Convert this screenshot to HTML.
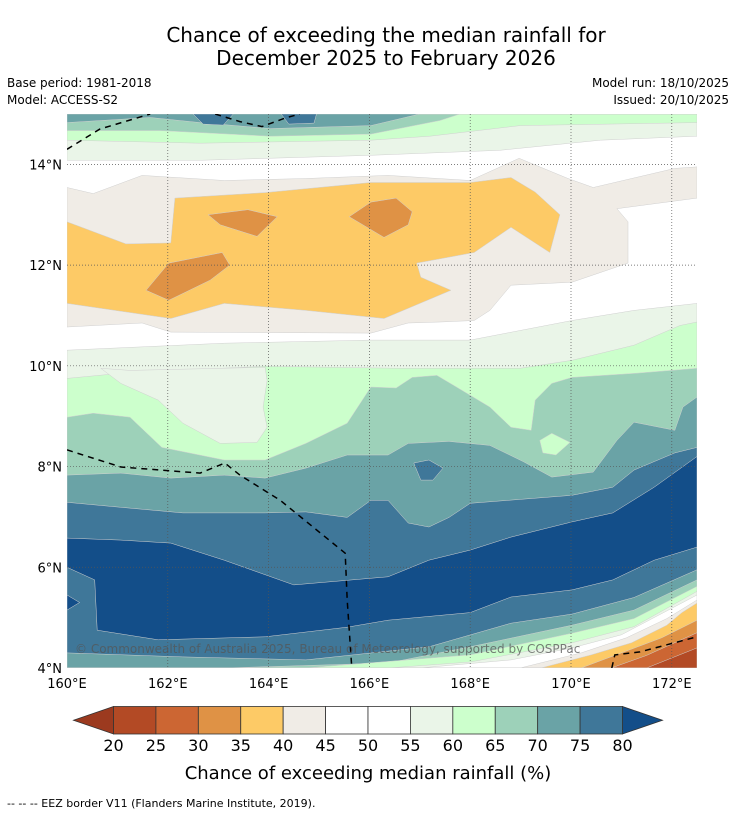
<!DOCTYPE html>
<html><head><meta charset="utf-8"><style>
html,body{margin:0;padding:0;background:#fff;width:736px;height:816px;overflow:hidden}
svg text{font-family:"DejaVu Sans","Liberation Sans",sans-serif}
</style></head><body>
<svg id="chart" width="736" height="816" viewBox="0 0 736 816" xmlns="http://www.w3.org/2000/svg">
<text x="386" y="42" font-size="20" text-anchor="middle" fill="#000">Chance of exceeding the median rainfall for</text>
<text x="386" y="65" font-size="20" text-anchor="middle" fill="#000">December 2025 to February 2026</text>
<text x="7" y="87" font-size="12">Base period: 1981-2018</text>
<text x="7" y="104" font-size="12">Model: ACCESS-S2</text>
<text x="729" y="87" font-size="12" text-anchor="end">Model run: 18/10/2025</text>
<text x="729" y="104" font-size="12" text-anchor="end">Issued: 20/10/2025</text>
<defs><clipPath id="mapclip"><rect x="67" y="114" width="630" height="554"/></clipPath></defs>
<g id="map" clip-path="url(#mapclip)"></g>
<g id="axes"></g>
<g id="cbar"></g>
<text x="368" y="779" font-size="18" text-anchor="middle">Chance of exceeding median rainfall (%)</text>
<text x="7" y="807" font-size="11">--  --  -- EEZ border V11 (Flanders Marine Institute, 2019).</text>
</svg>
<script>
// colour levels
const levels=[20,25,30,35,40,45,50,55,60,65,70,75,80];
const binColors=["#b34a25","#cc6633","#df9245","#fdca66","#f0ece6","#ffffff","#ffffff","#eaf5e8","#ccffcc","#9dd1b9","#6aa3a6","#3f7799"];
const underColor="#9c3a1f", overColor="#134e89";
const lonTicks=[160,162,164,166,168,170,172];
const latTicks=[4,6,8,10,12,14];
// contour regions [lon,lat]; mode: above=fill to top edge, below=fill to bottom edge, poly=closed
const regions=[
 ["above","#eaf5e8",[[160,14.08],[162.64,14.08],[166.03,14.18],[168.59,14.28],[170.58,14.48],[172.5,14.56]]],
 ["above","#ccffcc",[[160,14.48],[162.64,14.42],[166.03,14.48],[167.2,14.56],[168.99,14.77],[172.5,14.83]]],
 ["above","#9dd1b9",[[160,14.67],[161.85,14.67],[164.03,14.56],[166.03,14.6],[167.4,14.87],[167.8,15]]],
 ["above","#6aa3a6",[[160,14.83],[161.65,14.93],[162.64,14.83],[164.03,14.71],[166.03,14.77],[167.0,15]]],
 ["poly","#3f7799",[[162.5,15],[162.7,14.8],[163.1,14.78],[163.3,15]]],
 ["poly","#3f7799",[[164.25,15],[164.4,14.8],[164.9,14.82],[164.95,15]]],
 ["poly","#f0ece6",[[160,13.54],[160.52,13.42],[161.49,13.78],[163.12,13.68],[164.74,13.72],[166.37,13.78],[168.0,13.68],[168.97,14.12],[169.94,13.72],[170.44,13.54],[172.06,13.92],[172.5,13.95],[172.5,13.33],[170.91,13.12],[171.13,12.86],[171.13,12.04],[170.02,11.66],[168.81,11.6],[168.39,11.1],[168.08,10.9],[167.4,10.87],[166.77,10.85],[166.03,10.65],[162.06,10.67],[161.49,10.85],[160,10.77]]],
 ["poly","#fdca66",[[160,12.86],[161.17,12.42],[162.06,12.44],[162.14,13.33],[163.93,13.44],[166.03,13.64],[168.0,13.64],[168.81,13.74],[169.29,13.45],[169.78,13.0],[169.58,12.25],[168.81,12.75],[168.08,12.25],[166.94,12.04],[167.02,11.76],[167.62,11.5],[166.29,10.94],[164.74,11.1],[163.12,11.24],[162.06,10.94],[160,11.24]]],
 ["poly","#df9245",[[162.8,13.0],[163.59,13.1],[164.17,12.96],[163.77,12.57],[163.04,12.8]]],
 ["poly","#df9245",[[165.6,12.96],[166.03,13.25],[166.53,13.33],[166.85,13.06],[166.77,12.8],[166.29,12.55]]],
 ["poly","#df9245",[[161.57,11.5],[162.02,12.04],[163.08,12.25],[163.23,12.0],[162.84,11.7],[162.02,11.3]]],
 ["below","#eaf5e8",[[160,10.31],[163.12,10.45],[166.03,10.51],[168.0,10.51],[170.02,10.9],[171.25,11.1],[172.5,11.24]]],
 ["below","#ccffcc",[[160,9.75],[161.25,9.87],[163.93,9.99],[166.61,9.95],[168.99,9.95],[170.02,10.11],[171.25,10.41],[172.16,10.8],[172.5,10.87]]],
 ["poly","#eaf5e8",[[160.67,9.95],[161.07,9.65],[161.81,9.32],[162.3,8.86],[163.04,8.46],[163.77,8.48],[163.97,8.78],[163.89,9.18],[163.97,9.71],[163.93,9.97],[161.25,9.91]]],
 ["below","#9dd1b9",[[160,8.98],[160.52,9.06],[161.25,8.98],[161.88,8.38],[163.12,8.13],[163.93,8.13],[164.74,8.46],[165.56,8.86],[166.03,9.58],[166.53,9.56],[166.85,9.77],[167.34,9.81],[167.66,9.62],[168.39,9.18],[168.81,8.78],[169.21,8.72],[169.29,9.32],[169.62,9.65],[170.02,9.77],[171.25,9.85],[172.5,9.95]]],
 ["poly","#ccffcc",[[169.38,8.52],[169.62,8.66],[169.98,8.48],[169.7,8.23],[169.44,8.27]]],
 ["below","#6aa3a6",[[160,7.83],[161.07,7.87],[162.06,7.77],[163.12,7.83],[163.93,7.77],[164.74,7.97],[165.56,8.23],[166.37,8.23],[166.77,8.46],[167.58,8.5],[168.39,8.42],[169.05,8.1],[169.62,7.79],[170.44,7.89],[170.91,8.52],[171.25,8.88],[172.06,8.72],[172.22,9.18],[172.5,9.38]]],
 ["below","#3f7799",[[160,7.29],[161.07,7.19],[162.3,7.08],[163.93,7.08],[164.74,7.1],[165.56,6.99],[166.03,7.33],[166.37,7.33],[166.77,6.88],[167.18,6.8],[167.58,6.99],[168.0,7.27],[170.02,7.43],[170.83,7.59],[171.25,7.93],[172.06,8.27],[172.5,8.38]]],
 ["poly","#3f7799",[[166.88,8.07],[167.18,8.13],[167.46,7.97],[167.26,7.73],[167.02,7.73]]],
 ["below","#134e89",[[160,6.58],[161.07,6.54],[162.06,6.48],[163.12,6.14],[164.5,5.65],[166.37,5.81],[167.18,6.14],[168.0,6.34],[168.81,6.6],[170.02,6.9],[170.83,7.08],[171.65,7.59],[172.5,8.2]]],
 ["below","#3f7799",[[160,6.0],[160.55,5.75],[160.6,4.75],[161.81,4.56],[163.93,4.62],[165.56,4.81],[166.37,4.95],[168.0,5.1],[168.81,5.41],[170.02,5.55],[170.83,5.75],[171.65,6.14],[172.5,6.4]]],
 ["poly","#134e89",[[160,5.45],[160.25,5.3],[160,5.15]]],
 ["below","#6aa3a6",[[160,4.3],[162.3,4.22],[164.74,4.16],[167.18,4.42],[168.81,4.89],[170.02,5.07],[171.25,5.4],[172.5,5.95]]],
 ["below","#9dd1b9",[[163.12,4.0],[166.37,4.1],[168.0,4.42],[170.02,4.85],[171.25,5.15],[172.5,5.75]]],
 ["below","#ccffcc",[[164.74,4.0],[168.0,4.26],[170.02,4.69],[171.25,4.98],[172.5,5.62]]],
 ["below","#eaf5e8",[[166.37,4.0],[168.0,4.12],[170.02,4.5],[171.25,4.82],[172.5,5.52]]],
 ["below","#ffffff",[[167.0,4.0],[168.81,4.16],[170.02,4.4],[171.0,4.66],[172.5,5.45]]],
 ["below","#f0ece6",[[168.99,4.0],[170.2,4.3],[171.1,4.6],[171.9,4.98],[172.5,5.35]]],
 ["below","#fdca66",[[169.4,4.0],[170.4,4.26],[171.2,4.5],[171.9,4.85],[172.2,5.1],[172.5,5.29]]],
 ["below","#df9245",[[170.2,4.0],[171.0,4.3],[171.8,4.6],[172.5,4.95]]],
 ["below","#cc6633",[[170.8,4.0],[171.5,4.25],[172.5,4.7]]],
 ["below","#b34a25",[[171.5,4.0],[172.5,4.4]]]
];
const eezLines=[
 [[160,14.3],[160.65,14.7],[161.65,15.0]],
 [[162.94,15.0],[163.43,14.85],[163.87,14.75],[164.33,14.92],[164.62,15.0]],
 [[160,8.33],[161.07,7.99],[162.64,7.87],[163.13,8.07],[163.43,7.83],[164.23,7.33],[165.52,6.28],[165.56,5.35],[165.65,4.0]],
 [[170.81,4.0],[170.87,4.26],[171.37,4.32],[172.5,4.62]]
];
const NS="http://www.w3.org/2000/svg";
const LON0=160,LON1=172.5,LAT0=4,LAT1=15,X0=67,X1=697,Y0=668,Y1=114;
function x(lon){return X0+(lon-LON0)/(LON1-LON0)*(X1-X0);}
function y(lat){return Y0-(lat-LAT0)/(LAT1-LAT0)*(Y0-Y1);}
function mk(tag,attrs,parent){const e=document.createElementNS(NS,tag);for(const k in attrs)e.setAttribute(k,attrs[k]);parent.appendChild(e);return e;}
const map=document.getElementById('map');
const bg=mk('rect',{x:X0,y:Y1,width:X1-X0,height:Y0-Y1,fill:'#fff'},map);


regions.forEach((r,i)=>{
  let pts=r[2].slice();
  if(r[0]==='above'){pts=[[LON0,LAT1]].concat(pts,[[LON1,LAT1]]);}
  else if(r[0]==='below'){pts=pts.concat([[LON1,LAT0],[LON0,LAT0]]);}
  const p=mk('polygon',{points:pts.map(q=>x(q[0]).toFixed(1)+','+y(q[1]).toFixed(1)).join(' '),fill:r[1],stroke:'#d0d0d0','stroke-width':0.5},map);
  
  
});
// grid
lonTicks.forEach(l=>{if(l>LON0){const g=mk('line',{x1:x(l),x2:x(l),y1:Y1,y2:Y0,stroke:'#555','stroke-width':0.7,'stroke-dasharray':'1,2'},map);

}});
latTicks.forEach(l=>{if(l>LAT0){const g=mk('line',{x1:X0,x2:X1,y1:y(l),y2:y(l),stroke:'#555','stroke-width':0.7,'stroke-dasharray':'1,2'},map);

}});
eezLines.forEach((ln,i)=>{const p=mk('polyline',{points:ln.map(q=>x(q[0]).toFixed(1)+','+y(q[1]).toFixed(1)).join(' '),fill:'none',stroke:'#000','stroke-width':1.5,'stroke-dasharray':'6,5'},map);

});
const wm=mk('text',{x:75,y:653,'font-size':12,fill:'#555','fill-opacity':0.75},map);
wm.textContent='© Commonwealth of Australia 2025, Bureau of Meteorology, supported by COSPPac';


const ax=document.getElementById('axes');
lonTicks.forEach(l=>{const t=mk('text',{x:x(l),y:Y0+20,'font-size':13,'text-anchor':'middle'},ax);t.textContent=l+'°E';

});
latTicks.forEach(l=>{const t=mk('text',{x:X0-5,y:y(l)+5,'font-size':13,'text-anchor':'end'},ax);t.textContent=l+'°N';

});
// colorbar
const cb=document.getElementById('cbar');
const CX0=113.5,CX1=622.5,CY0=706.5,CY1=734,TIP=40;
function cx(v){return CX0+(v-levels[0])/(levels[levels.length-1]-levels[0])*(CX1-CX0);}
const lt=mk('polygon',{points:`${CX0},${CY0} ${CX0-TIP},${(CY0+CY1)/2} ${CX0},${CY1}`,fill:underColor,stroke:'#333','stroke-width':0.8},cb);


const rt=mk('polygon',{points:`${CX1},${CY0} ${CX1+TIP},${(CY0+CY1)/2} ${CX1},${CY1}`,fill:overColor,stroke:'#333','stroke-width':0.8},cb);


binColors.forEach((c,i)=>{const r=mk('rect',{x:cx(levels[i]),y:CY0,width:cx(levels[i+1])-cx(levels[i]),height:CY1-CY0,fill:c,stroke:'#333','stroke-width':0.8},cb);

});
levels.forEach(v=>{const t=mk('text',{x:cx(v),y:751,'font-size':16,'text-anchor':'middle'},cb);t.textContent=v;

});
</script>
</body></html>
